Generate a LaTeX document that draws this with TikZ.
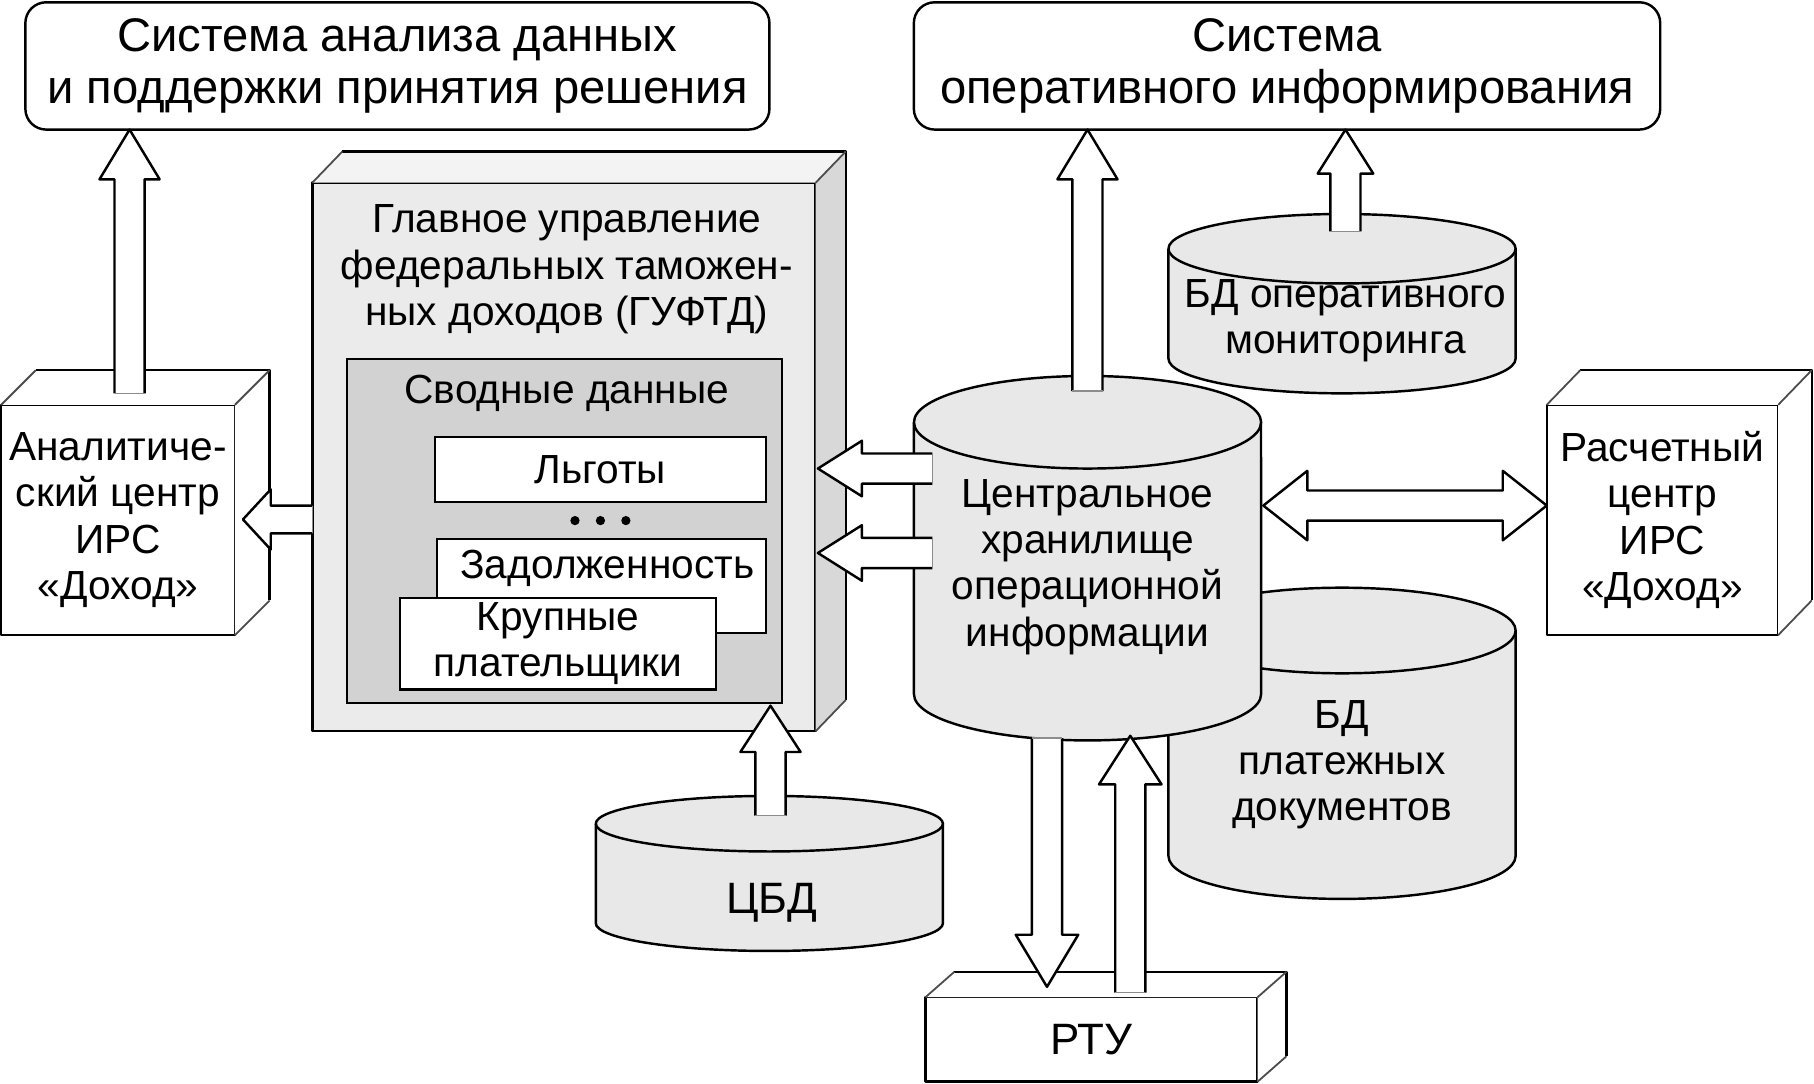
\documentclass[tikz,border=0pt]{standalone}
\usepackage{fontspec}
\setmainfont{Liberation Sans}
\usetikzlibrary{calc}
\newcommand\fa{\fontsize{25}{28.5}\selectfont}
\newcommand\fb{\fontsize{29}{32.5}\selectfont}
\newcommand\fc{\fontsize{27}{30}\selectfont}
\definecolor{gfront}{HTML}{EBEBEB}
\definecolor{gtop}{HTML}{F3F3F3}
\definecolor{gright}{HTML}{D8D8D8}
\definecolor{gsvod}{HTML}{D2D2D2}
\definecolor{cylgray}{HTML}{E8E8E8}
\tikzset{
  ln/.style={line width=1.5pt, line join=round},
  diag/.style={line width=1.1pt, black!70},
  frontbox/.style={draw, ln, outer sep=0pt, inner sep=0pt, align=center, font=\fa},
  innerbox/.style={draw, line width=1.3pt, outer sep=0pt, inner sep=0pt, align=center, font=\fa},
  hollow/.style={ln, fill=white},
  tailedge/.style={line width=1pt, black!45},
  lbl/.style={inner sep=0pt, align=center, font=\fa},
}
% #1 tail, #2 tip, #3 shaft half width, #4 head half width, #5 head length
\newcommand\blockarrow[5]{%
  \coordinate (ba-h) at ($(#2)!#5!(#1)$);
  \filldraw[hollow] ($(#1)!#3!-90:(#2)$) -- ($(ba-h)!#3!-90:(#2)$) -- ($(ba-h)!#4!-90:(#2)$) -- (#2)
     -- ($(ba-h)!#4!90:(#2)$) -- ($(ba-h)!#3!90:(#2)$) -- ($(#1)!#3!90:(#2)$);
  \draw[tailedge] ($(#1)!#3!-90:(#2)$) -- ($(#1)!#3!90:(#2)$);
}
\newcommand\dblarrow[5]{%
  \coordinate (da-l) at ($(#1)!#5!(#2)$);
  \coordinate (da-r) at ($(#2)!#5!(#1)$);
  \filldraw[hollow] (#1) -- ($(da-l)!#4!90:(#2)$) -- ($(da-l)!#3!90:(#2)$) -- ($(da-r)!#3!-90:(#1)$)
     -- ($(da-r)!#4!-90:(#1)$) -- (#2) -- ($(da-r)!#4!90:(#1)$) -- ($(da-r)!#3!90:(#1)$)
     -- ($(da-l)!#3!-90:(#2)$) -- ($(da-l)!#4!-90:(#2)$) -- cycle;
}
% #1 node, #2 dx, #3 dy, #4 top fill, #5 right fill
\newcommand\depthfaces[5]{%
  \fill[#4] (#1.north west) -- ++(#2,#3) -- ($(#1.north east)+(#2,#3)$) -- (#1.north east) -- cycle;
  \fill[#5] (#1.north east) -- ++(#2,#3) -- ($(#1.south east)+(#2,#3)$) -- (#1.south east) -- cycle;
  \draw[ln] ($(#1.north west)+(#2,#3)$) -- ($(#1.north east)+(#2,#3)$) -- ($(#1.south east)+(#2,#3)$);
  \draw[diag] (#1.north west) -- ++(#2,#3) (#1.north east) -- ++(#2,#3) (#1.south east) -- ++(#2,#3);
}
% #1 left x, #2 right x, #3 top centre y, #4 bottom centre y, #5 rx, #6 ry
\newcommand\drawcyl[6]{%
  \fill[cylgray] (#1,#3) -- (#1,#4) arc[start angle=180,end angle=360,x radius=#5,y radius=#6]
     -- (#2,#3) arc[start angle=0,end angle=180,x radius=#5,y radius=#6] -- cycle;
  \draw[ln] (#1,#3) -- (#1,#4) arc[start angle=180,end angle=360,x radius=#5,y radius=#6] -- (#2,#3);
  \draw[ln] (#1,#3) arc[start angle=180,end angle=-180,x radius=#5,y radius=#6];
}
\begin{document}
\begin{tikzpicture}[x=0.025cm, y=-0.025cm]
\useasboundingbox[fill=white] (0,0) rectangle (1568,937);

% top systems
\node (sys1) [draw, ln, rounded corners=0.45cm, fill=white, outer sep=0pt, align=center, font=\fb,
  minimum width=16.075cm, minimum height=2.75cm] at (343.5,57)
  {Система анализа данных\\и поддержки принятия решения};
\node (sys2) [draw, ln, rounded corners=0.45cm, fill=white, outer sep=0pt, align=center, font=\fb,
  minimum width=16.125cm, minimum height=2.75cm] at (1112.5,57)
  {Система\\оперативного информирования};

% analytic centre
\node (ana) [frontbox, fill=white, minimum width=5.05cm, minimum height=4.975cm] at (102,449.5)
  {Аналитиче-\\ский центр\\ИРС\\«Доход»};
\depthfaces{ana}{30}{-30}{white}{white}

% GUFTD
\node (guftd) [frontbox, fill=gfront, minimum width=10.875cm, minimum height=11.85cm] at (487.5,395) {};
\depthfaces{guftd}{26}{-27}{gtop}{gright}
\node (gtitle) [lbl] at (490,233) {Главное управление\\федеральных таможен-\\ных доходов (ГУФТД)};
\node (svod) [innerbox, fill=gsvod, minimum width=9.4cm, minimum height=7.45cm] at (488,459) {};
\node (svodt) [lbl] at (490,340) {Сводные данные};
\node (lgot) [innerbox, fill=white, minimum width=7.15cm, minimum height=1.4cm] at (519,406) {Льготы};
\fill (497,450) circle[radius=0.1cm] (519,450) circle[radius=0.1cm] (541,450) circle[radius=0.1cm];
\node (zad) [innerbox, fill=white, minimum width=7.1cm, minimum height=2.025cm] at (520,506.5) {};
\node (zadt) [lbl] at (525,491) {Задолженность};
\node (krup) [innerbox, fill=white, minimum width=6.825cm, minimum height=1.975cm] at (482.5,556.5)
  {Крупные\\плательщики};

% settlement centre
\node (rasch) [frontbox, fill=white, minimum width=5cm, minimum height=4.975cm] at (1437,449.5)
  {Расчетный\\центр\\ИРС\\«Доход»};
\depthfaces{rasch}{29}{-30}{white}{white}

% RTU
\node (rtu) [frontbox, fill=white, font=\fc, minimum width=7.175cm, minimum height=1.825cm] at (943.5,898.5) {РТУ};
\depthfaces{rtu}{25}{-22}{white}{white}

% cylinders
\drawcyl{1010}{1310}{215}{310}{3.75cm}{0.75cm}
\node (mon) [lbl] at (1163,277) {БД оперативного\\мониторинга};
\drawcyl{1010}{1310}{545}{740}{3.75cm}{0.925cm}
\node (plat) [lbl] at (1160,661) {БД\\платежных\\документов};
\drawcyl{790}{1090}{365}{600}{3.75cm}{1cm}
\node (cent) [lbl] at (940,490) {Центральное\\хранилище\\операционной\\информации};
\drawcyl{515}{815}{712}{798}{3.75cm}{0.6cm}
\node (cbd) [lbl, font=\fc] at (667,780) {ЦБД};

% arrow end points
\coordinate (a1s) at (112,340);  \coordinate (a1e) at (a1s |- sys1.south);
\coordinate (a2s) at (270,449);  \coordinate (a2e) at (210,449);
\coordinate (a3s) at (806,405);  \coordinate (a3e) at (707,405);
\coordinate (a4s) at (806,478);  \coordinate (a4e) at (707,478);
\coordinate (a5s) at (666,705);  \coordinate (a5e) at (666,610);
\coordinate (a6s) at (940,338);  \coordinate (a6e) at (a6s |- sys2.south);
\coordinate (a7s) at (1163,200); \coordinate (a7e) at (a7s |- sys2.south);
\coordinate (a8s) at (905,638);  \coordinate (a8e) at (905,853);
\coordinate (a9s) at (977,858);  \coordinate (a9e) at (977,636);
\coordinate (a10s) at (1092,437); \coordinate (a10e) at (rasch.west |- a10s);

\blockarrow{a1s}{a1e}{0.325cm}{0.65cm}{1.075cm}
\blockarrow{a2s}{a2e}{0.3cm}{0.65cm}{0.6cm}
\blockarrow{a3s}{a3e}{0.325cm}{0.6cm}{0.95cm}
\blockarrow{a4s}{a4e}{0.325cm}{0.6cm}{0.95cm}
\blockarrow{a5s}{a5e}{0.325cm}{0.65cm}{1cm}
\blockarrow{a6s}{a6e}{0.325cm}{0.65cm}{1.075cm}
\blockarrow{a7s}{a7e}{0.325cm}{0.6cm}{0.95cm}
\blockarrow{a8s}{a8e}{0.325cm}{0.675cm}{1.125cm}
\blockarrow{a9s}{a9e}{0.325cm}{0.675cm}{1.05cm}
\dblarrow{a10s}{a10e}{0.325cm}{0.75cm}{0.95cm}
\end{tikzpicture}
\end{document}
